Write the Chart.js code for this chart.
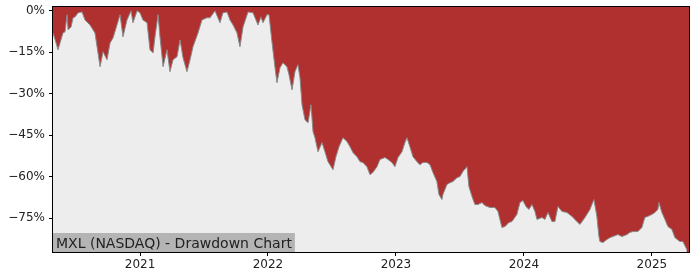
<!DOCTYPE html>
<html>
<head>
<meta charset="utf-8">
<script src="https://cdn.jsdelivr.net/npm/chart.js@4"></script>
<style>
    html, body { margin: 0; padding: 0; background: #ffffff; }
    #wrap { width: 700px; height: 280px; }
</style>
</head>
<body>
<div id="wrap"><canvas id="drawdownChart" width="700" height="280"></canvas></div>
<script>
// drawdown series (x in fractional years, y in %)
const years = [
    2020.320, 2020.344, 2020.359, 2020.375, 2020.398, 2020.414, 2020.430, 2020.438, 2020.461, 2020.477,
    2020.492, 2020.516, 2020.547, 2020.570, 2020.609, 2020.648, 2020.688, 2020.711, 2020.742, 2020.766,
    2020.789, 2020.820, 2020.844, 2020.867, 2020.898, 2020.930, 2020.945, 2020.977, 2021.000, 2021.023,
    2021.055, 2021.078, 2021.102, 2021.117, 2021.141, 2021.156, 2021.180, 2021.211, 2021.234, 2021.258,
    2021.289, 2021.313, 2021.336, 2021.367, 2021.391, 2021.414, 2021.453, 2021.484, 2021.523, 2021.547,
    2021.586, 2021.625, 2021.648, 2021.680, 2021.703, 2021.727, 2021.758, 2021.781, 2021.805, 2021.844,
    2021.883, 2021.922, 2021.945, 2021.961, 2021.992, 2022.008, 2022.031, 2022.055, 2022.070, 2022.094,
    2022.117, 2022.148, 2022.164, 2022.188, 2022.211, 2022.234, 2022.250, 2022.266, 2022.289, 2022.313,
    2022.336, 2022.352, 2022.367, 2022.391, 2022.422, 2022.445, 2022.469, 2022.484, 2022.508, 2022.531,
    2022.555, 2022.586, 2022.617, 2022.641, 2022.664, 2022.695, 2022.719, 2022.742, 2022.773, 2022.797,
    2022.820, 2022.852, 2022.875, 2022.914, 2022.938, 2022.969, 2022.992, 2023.016, 2023.047, 2023.070,
    2023.086, 2023.109, 2023.133, 2023.164, 2023.188, 2023.211, 2023.242, 2023.266, 2023.289, 2023.320,
    2023.336, 2023.359, 2023.367, 2023.398, 2023.422, 2023.445, 2023.477, 2023.500, 2023.523, 2023.555,
    2023.570, 2023.594, 2023.617, 2023.641, 2023.672, 2023.695, 2023.734, 2023.773, 2023.797, 2023.828,
    2023.852, 2023.883, 2023.906, 2023.945, 2023.969, 2023.992, 2024.016, 2024.039, 2024.063, 2024.086,
    2024.102, 2024.141, 2024.164, 2024.188, 2024.219, 2024.242, 2024.266, 2024.297, 2024.336, 2024.375,
    2024.414, 2024.438, 2024.477, 2024.516, 2024.547, 2024.570, 2024.586, 2024.594, 2024.617, 2024.648,
    2024.672, 2024.695, 2024.734, 2024.766, 2024.805, 2024.828, 2024.852, 2024.891, 2024.922, 2024.945,
    2024.969, 2025.000, 2025.023, 2025.047, 2025.055, 2025.078, 2025.102, 2025.125, 2025.156, 2025.180,
    2025.219, 2025.242, 2025.273
];

const drawdown = [
    -8.0, -11.6, -14.1, -11.6, -8.0, -7.6, -1.4, -6.9, -5.8, -2.5,
    -2.2, -0.7, -0.4, -3.3, -5.1, -8.0, -20.2, -14.8, -17.7, -11.6,
    -9.8, -5.1, -1.4, -9.4, -3.3, 0, -4.3, 0, -0.7, -3.3,
    -4.3, -14.1, -15.2, -9.4, -1.4, -9.4, -20.2, -14.1, -22.0, -17.7,
    -16.6, -10.5, -17.0, -22.0, -17.7, -13.0, -8.0, -3.3, -2.5, -2.5,
    0, -4.3, -0.7, -0.4, -3.3, -5.1, -8.0, -13.0, -5.8, -0.4,
    -0.7, -5.1, -2.2, -4.3, -1.4, -1.4, -11.2, -20.6, -26.0, -20.6,
    -18.8, -20.2, -23.1, -28.6, -22.0, -19.5, -24.2, -34.0, -39.4, -40.5,
    -34.0, -43.7, -45.9, -51.0, -47.7, -51.0, -54.6, -55.7, -57.5, -52.8,
    -49.2, -45.9, -47.3, -49.2, -51.3, -52.8, -54.6, -54.9, -56.4, -59.3,
    -58.5, -56.4, -53.8, -53.1, -53.8, -54.9, -56.4, -53.1, -51.0, -47.7,
    -45.9, -49.2, -52.8, -54.6, -55.7, -54.9, -54.9, -55.7, -58.5, -61.8,
    -66.5, -68.3, -66.5, -62.9, -62.2, -61.8, -60.4, -60.0, -58.2, -56.4,
    -63.6, -67.2, -70.1, -70.1, -69.4, -70.5, -71.2, -71.2, -72.6, -78.4,
    -78.1, -76.6, -76.3, -73.7, -69.4, -68.7, -70.8, -71.9, -70.1, -72.6,
    -75.5, -74.8, -75.5, -73.0, -76.3, -76.3, -70.8, -72.6, -73.0, -74.4,
    -76.3, -77.3, -74.8, -71.9, -68.3, -74.4, -81.7, -83.5, -83.9, -82.8,
    -82.1, -81.7, -81.0, -81.7, -81.0, -80.2, -79.9, -79.9, -78.4, -74.8,
    -74.4, -73.7, -73.0, -71.9, -69.4, -73.0, -75.5, -78.1, -79.1, -82.1,
    -83.5, -83.5, -86.4
];

const yearTicks = [2021, 2022, 2023, 2024, 2025];
const pctTicks = [0, -15, -30, -45, -60, -75];
const chartTitle = "MXL (NASDAQ) - Drawdown Chart";

const tickFont = { family: "'DejaVu Sans', sans-serif", size: 12 };

// red background behind the plot, black frame and the label box on top
const plotDecor = {
    id: "plotDecor",
    beforeDatasetsDraw(chart) {
        const { ctx, chartArea: a } = chart;
        ctx.save();
        ctx.fillStyle = "#b03030";
        ctx.fillRect(a.left, a.top, a.right - a.left, a.bottom - a.top);
        ctx.restore();
    },
    afterDatasetsDraw(chart) {
        const { ctx, chartArea: a } = chart;
        ctx.save();
        ctx.font = "14px 'DejaVu Sans', sans-serif";
        const w = ctx.measureText(chartTitle).width;
        ctx.fillStyle = "#b4b4b4";
        ctx.fillRect(a.left, a.bottom - 19, w + 6, 19);
        ctx.fillStyle = "#222222";
        ctx.textBaseline = "alphabetic";
        ctx.fillText(chartTitle, a.left + 3, a.bottom - 4);
        ctx.strokeStyle = "#000000";
        ctx.lineWidth = 1;
        ctx.strokeRect(Math.round(a.left) - 0.5, Math.round(a.top) - 0.5,
            Math.round(a.right - a.left) + 1, Math.round(a.bottom - a.top) + 1);
        ctx.restore();
    }
};

const ctx = document.getElementById("drawdownChart").getContext("2d");

new Chart(ctx, {
    type: "line",
    data: {
        datasets: [
            {
                label: "Drawdown",
                data: years.map((x, i) => ({ x: x, y: drawdown[i] })),
                borderColor: "#8a8a8a",
                borderWidth: 1,
                backgroundColor: "#ededed",
                fill: "start",
                pointRadius: 0,
                tension: 0,
            },
        ],
    },
    options: {
        responsive: false,
        animation: false,
        layout: { padding: { left: 0, right: 11, top: 7, bottom: 0 } },
        plugins: {
            legend: { display: false },
            tooltip: { enabled: false },
        },
        scales: {
            x: {
                type: "linear",
                min: 2020.32,
                max: 2025.29,
                afterBuildTicks: (scale) => {
                    scale.ticks = yearTicks.map((v) => ({ value: v }));
                },
                afterFit: (scale) => {
                    scale.height = 28;
                    scale.paddingLeft = 0;
                    scale.paddingRight = 0;
                },
                ticks: {
                    color: "#222222",
                    font: tickFont,
                    padding: 2,
                    maxRotation: 0,
                    callback: (v) => String(v),
                },
                grid: {
                    drawOnChartArea: false,
                    tickLength: 4,
                    tickColor: "#000000",
                },
                border: { display: false },
            },
            y: {
                min: -87.3,
                max: 1.4,
                afterBuildTicks: (scale) => {
                    scale.ticks = pctTicks.map((v) => ({ value: v }));
                },
                afterFit: (scale) => {
                    scale.width = 53;
                    scale.paddingTop = 0;
                    scale.paddingBottom = 0;
                },
                ticks: {
                    color: "#222222",
                    font: tickFont,
                    padding: 4,
                    callback: (v) => (v < 0 ? "\u2212" + Math.abs(v) : v) + "%",
                },
                grid: {
                    drawOnChartArea: false,
                    tickLength: 4,
                    tickColor: "#000000",
                },
                border: { display: false },
            },
        },
    },
    plugins: [plotDecor],
});
</script>
</body>
</html>
